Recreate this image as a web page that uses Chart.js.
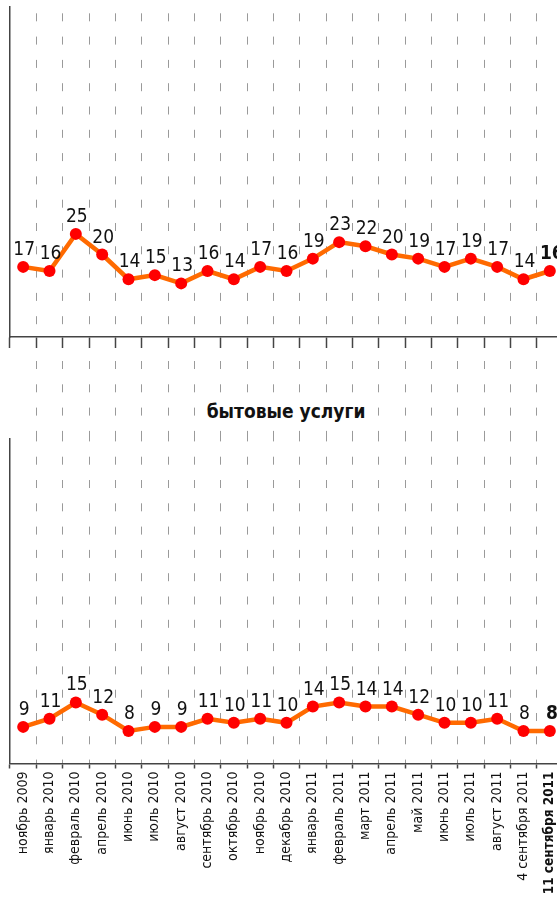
<!DOCTYPE html>
<html>
<head>
<meta charset="utf-8">
<script src="https://cdn.jsdelivr.net/npm/chart.js@4.4.0/dist/chart.umd.min.js"></script>
<style>
    html, body { margin: 0; padding: 0; background: #fff; overflow: hidden; }
    #wrap { position: relative; width: 557px; height: 897px; overflow: hidden; }
    .box { position: absolute; left: 0; width: 563px; }
    #topBox { top: 0; height: 438px; }
    #bottomBox { top: 438px; height: 459px; }
    #title { position: absolute; left: 0; top: 400px; width: 572px; text-align: center; }
    #title span {
        background: #fff; padding: 0 4px;
        font: bold 19px 'Liberation Sans Narrow', 'Arial Narrow', 'DejaVu Sans Condensed', sans-serif;
        color: #111;
    }
</style>
</head>
<body>
<div id="wrap">
    <div class="box" id="topBox"><canvas id="topChart"></canvas></div>
    <div class="box" id="bottomBox"><canvas id="bottomChart"></canvas></div>
    <div id="title"><span id="bottom-title"></span></div>
</div>
<script>
// Data
const months = [
    'ноябрь 2009', 'январь 2010', 'февраль 2010', 'апрель 2010', 'июнь 2010',
    'июль 2010', 'август 2010', 'сентябрь 2010', 'октябрь 2010', 'ноябрь 2010',
    'декабрь 2010', 'январь 2011', 'февраль 2011', 'март 2011', 'апрель 2011',
    'май 2011', 'июнь 2011', 'июль 2011', 'август 2011', '4 сентября 2011',
    '11 сентября 2011'
];
const topValues = [17, 16, 25, 20, 14, 15, 13, 16, 14, 17, 16, 19, 23, 22, 20, 19, 17, 19, 17, 14, 16];
const bottomValues = [9, 11, 15, 12, 8, 9, 9, 11, 10, 11, 10, 14, 15, 14, 14, 12, 10, 10, 11, 8, 8];
const bottomTitle = 'бытовые услуги';
const yMin = 0;
const yMax = 80;

const FONT = "'Liberation Sans Narrow', 'Arial Narrow', 'DejaVu Sans Condensed', sans-serif";
const LINE_COLOR = '#ff6a00';
const POINT_COLOR = '#ff0000';
const GRID_COLOR = '#9a9a9a';
const AXIS_COLOR = '#444';
const lastIndex = months.length - 1;

document.getElementById('bottom-title').textContent = bottomTitle;

// draws the value above each point, last one in bold
const valueLabels = {
    id: 'valueLabels',
    afterDatasetsDraw(chart) {
        const ctx = chart.ctx;
        const values = chart.data.datasets[0].data;
        ctx.save();
        ctx.fillStyle = '#111';
        ctx.textAlign = 'center';
        ctx.textBaseline = 'alphabetic';
        chart.getDatasetMeta(0).data.forEach((pt, i) => {
            const last = i === lastIndex;
            ctx.font = (last ? 'bold ' : '') + '19px ' + FONT;
            ctx.fillText(String(values[i]), pt.x + (last ? 2 : 1), pt.y - 12);
        });
        ctx.restore();
    }
};

function lineDataset(values) {
    return {
        data: values,
        borderColor: LINE_COLOR,
        borderWidth: 4.5,
        pointBackgroundColor: POINT_COLOR,
        pointBorderWidth: 0,
        pointRadius: 6,
        pointHoverRadius: 6,
        tension: 0,
        fill: false
    };
}

const yAxis = {
    min: yMin,
    max: yMax,
    ticks: { display: false },
    grid: { display: false, drawTicks: false },
    border: { display: true, color: AXIS_COLOR, width: 1.5 }
};

// no extra side padding from rotated labels
function noSidePadding(s) {
    s.paddingLeft = 0;
    s.paddingRight = 0;
}

const topChart = new Chart(document.getElementById('topChart'), {
    type: 'line',
    data: { labels: months, datasets: [lineDataset(topValues)] },
    options: {
        responsive: true,
        maintainAspectRatio: false,
        animation: false,
        layout: { autoPadding: false, padding: { top: 7, left: 10, right: 0, bottom: 0 } },
        plugins: { legend: { display: false }, tooltip: { enabled: false } },
        scales: {
            x: {
                offset: true,
                ticks: { display: false },
                grid: {
                    offset: true, color: GRID_COLOR, lineWidth: 1,
                    tickLength: 11, tickColor: AXIS_COLOR, tickWidth: 1.5
                },
                border: { display: true, color: AXIS_COLOR, width: 1.5, dash: [8, 15.3], dashOffset: 17 },
                afterFit: s => { s.height = 11; noSidePadding(s); }
            },
            x2: {
                type: 'category',
                position: 'bottom',
                offset: true,
                ticks: { display: false },
                grid: {
                    offset: true, drawOnChartArea: false,
                    tickLength: 90,
                    tickColor: c => c.index === 0 ? 'rgba(0,0,0,0)' : GRID_COLOR,
                    tickWidth: 1,
                    tickBorderDash: [8, 15.3], tickBorderDashOffset: 10.3
                },
                border: { display: false },
                afterFit: s => { s.height = 90; noSidePadding(s); }
            },
            y: yAxis
        }
    },
    plugins: [valueLabels]
});

const bottomChart = new Chart(document.getElementById('bottomChart'), {
    type: 'line',
    data: { labels: months, datasets: [lineDataset(bottomValues)] },
    options: {
        responsive: true,
        maintainAspectRatio: false,
        animation: false,
        layout: { autoPadding: false, padding: { top: 0, left: 10, right: 0, bottom: 0 } },
        plugins: { legend: { display: false }, tooltip: { enabled: false } },
        scales: {
            x: {
                offset: true,
                ticks: {
                    autoSkip: false,
                    minRotation: 90,
                    maxRotation: 90,
                    padding: 3,
                    color: '#111',
                    font: c => c.index === lastIndex
                        ? { family: FONT, size: 13.5, weight: 'bold' }
                        : { family: FONT, size: 14, weight: 'normal' }
                },
                grid: {
                    offset: true, color: GRID_COLOR, lineWidth: 1,
                    tickLength: 5, tickColor: AXIS_COLOR, tickWidth: 1.5
                },
                border: { display: true, color: AXIS_COLOR, width: 1.5, dash: [8, 15.3], dashOffset: 4.6 },
                afterFit: s => { s.height = 133.5; noSidePadding(s); }
            },
            y: yAxis
        }
    },
    plugins: [valueLabels]
});
</script>
</body>
</html>
